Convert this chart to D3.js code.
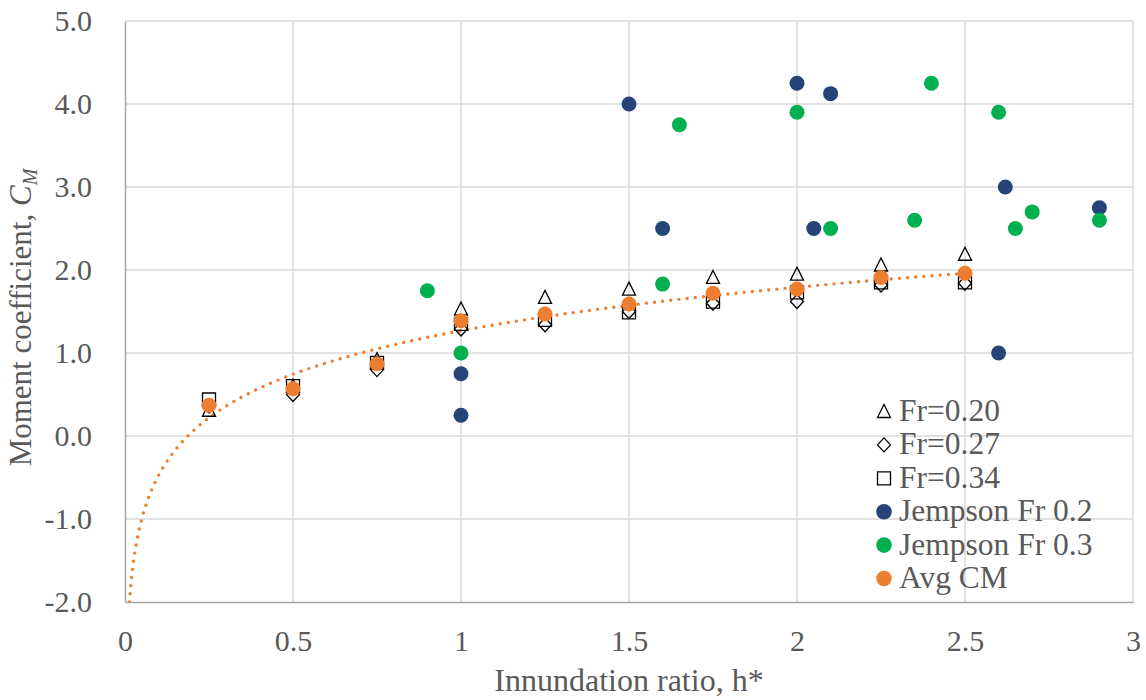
<!DOCTYPE html>
<html>
<head>
<meta charset="utf-8">
<script src="https://cdn.jsdelivr.net/npm/d3@7/dist/d3.min.js"></script>
<style>
  body { margin: 0; background: #fff; }
  text { font-family: "Liberation Serif", "Times New Roman", serif; fill: #595959; }
</style>
</head>
<body>
<svg id="chart" width="1146" height="700"></svg>
<script>
// Inundation ratios tested in the flume
const hStar = [0.25, 0.5, 0.75, 1.0, 1.25, 1.5, 1.75, 2.0, 2.25, 2.5];
// Moment coefficient per Froude number
const cmFr020 = [0.31, 0.60, 0.92, 1.53, 1.67, 1.77, 1.91, 1.95, 2.06, 2.19];
const cmFr027 = [0.36, 0.50, 0.80, 1.29, 1.34, 1.50, 1.60, 1.62, 1.82, 1.84];
const cmFr034 = [0.44, 0.60, 0.88, 1.35, 1.40, 1.49, 1.62, 1.73, 1.85, 1.85];
const cmAvg   = [0.37, 0.57, 0.87, 1.39, 1.47, 1.59, 1.72, 1.77, 1.91, 1.96];

// Jempson data, Fr 0.2
const jempson02H  = [1.0, 1.0, 1.5, 1.6, 2.0, 2.1, 2.05, 2.62, 2.6, 2.9];
const jempson02CM = [0.75, 0.25, 4.0, 2.5, 4.25, 4.125, 2.5, 3.0, 1.0, 2.75];
// Jempson data, Fr 0.3
const jempson03H  = [0.9, 1.0, 1.6, 1.65, 2.0, 2.1, 2.35, 2.4, 2.6, 2.65, 2.7, 2.9];
const jempson03CM = [1.75, 1.0, 1.83, 3.75, 3.9, 2.5, 2.6, 4.25, 3.9, 2.5, 2.7, 2.6];

const xTicks = [0, 0.5, 1, 1.5, 2, 2.5, 3];
const yTicks = [-2, -1, 0, 1, 2, 3, 4, 5];

const legendLabels = ["Fr=0.20", "Fr=0.27", "Fr=0.34", "Jempson Fr 0.2", "Jempson Fr 0.3", "Avg CM"];

const colNavy = "#264478", colGreen = "#00b050", colOrange = "#ed7d31";

const svg = d3.select("#chart");
const plot = { left: 125, right: 1133, top: 21, bottom: 602 };

const x = d3.scaleLinear().domain([0, 3]).range([plot.left, plot.right]);
const y = d3.scaleLinear().domain([-2, 5]).range([plot.bottom, plot.top]);

// Gridlines
const grid = svg.append("g");
grid.selectAll("line.v").data(xTicks.slice(1)).join("line")
  .attr("x1", d => x(d)).attr("x2", d => x(d))
  .attr("y1", plot.top).attr("y2", plot.bottom)
  .attr("stroke", "#d9d9d9").attr("stroke-width", 1.5);
grid.selectAll("line.h").data(yTicks.slice(1)).join("line")
  .attr("x1", plot.left).attr("x2", plot.right)
  .attr("y1", d => y(d)).attr("y2", d => y(d))
  .attr("stroke", "#d9d9d9").attr("stroke-width", 1.5);

// Axes
const tickFont = 30;
const xAxis = d3.axisBottom(x).tickValues(xTicks).tickSize(0).tickPadding(28)
  .tickFormat(d => String(d));
const gx = svg.append("g").attr("transform", `translate(0,${plot.bottom})`).call(xAxis);
gx.select(".domain").attr("stroke", "#a6a6a6").attr("stroke-width", 1.5);
gx.selectAll("text").attr("font-size", tickFont).attr("fill", "#595959")
  .attr("font-family", "Liberation Serif");

const yAxis = d3.axisLeft(y).tickValues(yTicks).tickSize(0).tickPadding(33)
  .tickFormat(d => d.toFixed(1));
const gy = svg.append("g").attr("transform", `translate(${plot.left},0)`).call(yAxis);
gy.select(".domain").attr("stroke", "#a6a6a6").attr("stroke-width", 1.5);
gy.selectAll("text").attr("font-size", tickFont).attr("fill", "#595959")
  .attr("font-family", "Liberation Serif");

// Axis titles
svg.append("text")
  .attr("x", (plot.left + plot.right) / 2).attr("y", 691)
  .attr("text-anchor", "middle").attr("font-size", 32)
  .text("Innundation ratio, h*");

const yTitle = svg.append("text")
  .attr("transform", `translate(31,${(plot.top + plot.bottom) / 2 + 6}) rotate(-90)`)
  .attr("text-anchor", "middle").attr("font-size", 31);
yTitle.append("tspan").text("Moment coefficient, ");
yTitle.append("tspan").attr("font-style", "italic").text("C");
yTitle.append("tspan").attr("font-style", "italic").attr("font-size", 20)
  .attr("dy", 6).text("M");

// Logarithmic trendline fitted to the average coefficients
const lnX = hStar.map(Math.log);
const mx = d3.mean(lnX), my = d3.mean(cmAvg);
const slope = d3.sum(lnX, (l, i) => (l - mx) * (cmAvg[i] - my)) / d3.sum(lnX, l => (l - mx) ** 2);
const intercept = my - slope * mx;
const xMin = Math.exp((-2 - intercept) / slope);
const trendX = d3.range(0, 301).map(i => xMin * Math.pow(2.5 / xMin, i / 300));

svg.append("clipPath").attr("id", "plotClip").append("rect")
  .attr("x", plot.left).attr("y", plot.top)
  .attr("width", plot.right - plot.left).attr("height", plot.bottom - plot.top);

svg.append("path")
  .datum(trendX)
  .attr("clip-path", "url(#plotClip)")
  .attr("d", d3.line().x(d => x(d)).y(d => y(intercept + slope * Math.log(d))))
  .attr("fill", "none").attr("stroke", colOrange).attr("stroke-width", 3.4)
  .attr("stroke-linecap", "round").attr("stroke-dasharray", "0,8.2");

// Marker symbols
const triPath = "M0,-7L6.5,6L-6.5,6Z";
const diaPath = "M0,-7L6.5,0L0,7L-6.5,0Z";
const sqPath = "M-6.5,-6.5H6.5V6.5H-6.5Z";

function hollow(values, path) {
  svg.append("g").selectAll("path").data(values).join("path")
    .attr("transform", (d, i) => `translate(${x(hStar[i])},${y(d)})`)
    .attr("d", path).attr("fill", "none").attr("stroke", "#000").attr("stroke-width", 1.3);
}
hollow(cmFr020, triPath);
hollow(cmFr027, diaPath);
hollow(cmFr034, sqPath);

function dots(xs, ys, color) {
  svg.append("g").selectAll("circle").data(ys).join("circle")
    .attr("cx", (d, i) => x(xs[i])).attr("cy", d => y(d))
    .attr("r", 7.5).attr("fill", color);
}
dots(jempson02H, jempson02CM, colNavy);
dots(jempson03H, jempson03CM, colGreen);
dots(hStar, cmAvg, colOrange);

// Legend
const legend = svg.append("g").attr("transform", "translate(884,411.5)");
const rowH = 33.4;
const legendMarks = [
  g => g.append("path").attr("d", triPath).attr("fill", "none").attr("stroke", "#000").attr("stroke-width", 1.3),
  g => g.append("path").attr("d", diaPath).attr("fill", "none").attr("stroke", "#000").attr("stroke-width", 1.3),
  g => g.append("path").attr("d", sqPath).attr("fill", "none").attr("stroke", "#000").attr("stroke-width", 1.3),
  g => g.append("circle").attr("r", 7.8).attr("fill", colNavy),
  g => g.append("circle").attr("r", 7.8).attr("fill", colGreen),
  g => g.append("circle").attr("r", 7.8).attr("fill", colOrange)
];
legendLabels.forEach((label, i) => {
  const row = legend.append("g").attr("transform", `translate(0,${i * rowH})`);
  legendMarks[i](row);
  row.append("text").attr("x", 15).attr("y", 9.5)
    .attr("font-size", 31.5).text(label);
});
</script>
</body>
</html>
